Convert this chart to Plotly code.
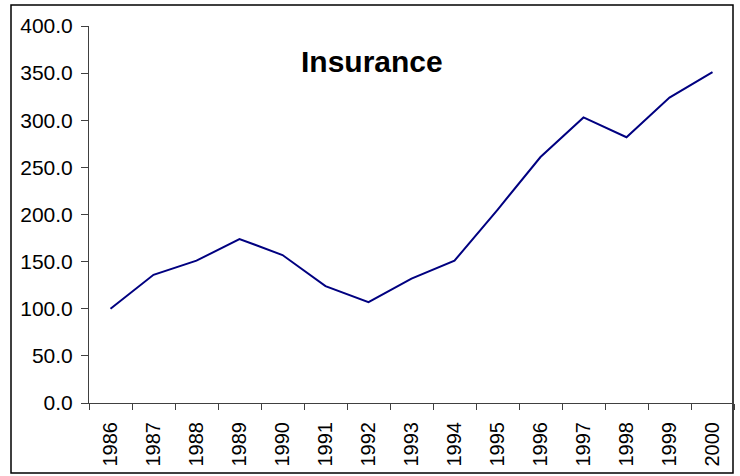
import plotly.graph_objects as go

years = ["1986", "1987", "1988", "1989", "1990", "1991", "1992", "1993",
         "1994", "1995", "1996", "1997", "1998", "1999", "2000"]
insurance = [100.0, 136.0, 151.0, 174.0, 157.0, 124.0, 107.0, 132.0,
             151.0, 205.0, 261.0, 303.0, 282.0, 324.0, 351.0]
y_ticks = [0, 50, 100, 150, 200, 250, 300, 350, 400]
title_text = "Insurance"

W, H = 740, 476
L, R, T, B = 89, 6, 26, 73
pw, ph = W - L - R, H - T - B

def px_x(p):
    return (p - L) / pw

def px_y(p):
    return (H - B - p) / ph

fig = go.Figure()
fig.add_trace(go.Scatter(x=years, y=insurance, mode="lines",
                         line=dict(color="#000080", width=2), showlegend=False))

axis_col = "#404040"
font_fam = "Liberation Sans, Arial, sans-serif"
fig.update_layout(
    width=W, height=H,
    margin=dict(l=L, r=R, t=T, b=B),
    paper_bgcolor="white", plot_bgcolor="white",
    font=dict(family=font_fam, color="black", size=20),
    xaxis=dict(type="category", range=[-0.5, len(years) - 0.5],
               showgrid=False, showline=True, linecolor=axis_col, linewidth=1,
               ticks="outside", tickson="boundaries", ticklen=6, tickcolor=axis_col,
               tickangle=-90, tickfont=dict(size=20), ticklabelstandoff=10),
    yaxis=dict(range=[0, 400], tickvals=y_ticks, tickformat=".1f",
               showgrid=False, zeroline=False, showline=True, linecolor=axis_col,
               linewidth=1, ticks="outside", ticklen=7, tickcolor=axis_col,
               tickfont=dict(size=21), ticklabelstandoff=4),
    annotations=[dict(text=f"<b>{title_text}</b>", xref="paper", yref="paper",
                      x=px_x(372), y=px_y(61), showarrow=False,
                      xanchor="center", yanchor="middle",
                      font=dict(size=30, color="black", family=font_fam))],
    shapes=[dict(type="rect", xref="paper", yref="paper",
                 x0=px_x(11), x1=px_x(733), y0=px_y(473), y1=px_y(5),
                 line=dict(color="black", width=1.5), layer="below")],
)

fig.write_html("out.html", config={"displayModeBar": False},
               post_script="document.body.style.margin='0';document.body.style.overflow='hidden';")
